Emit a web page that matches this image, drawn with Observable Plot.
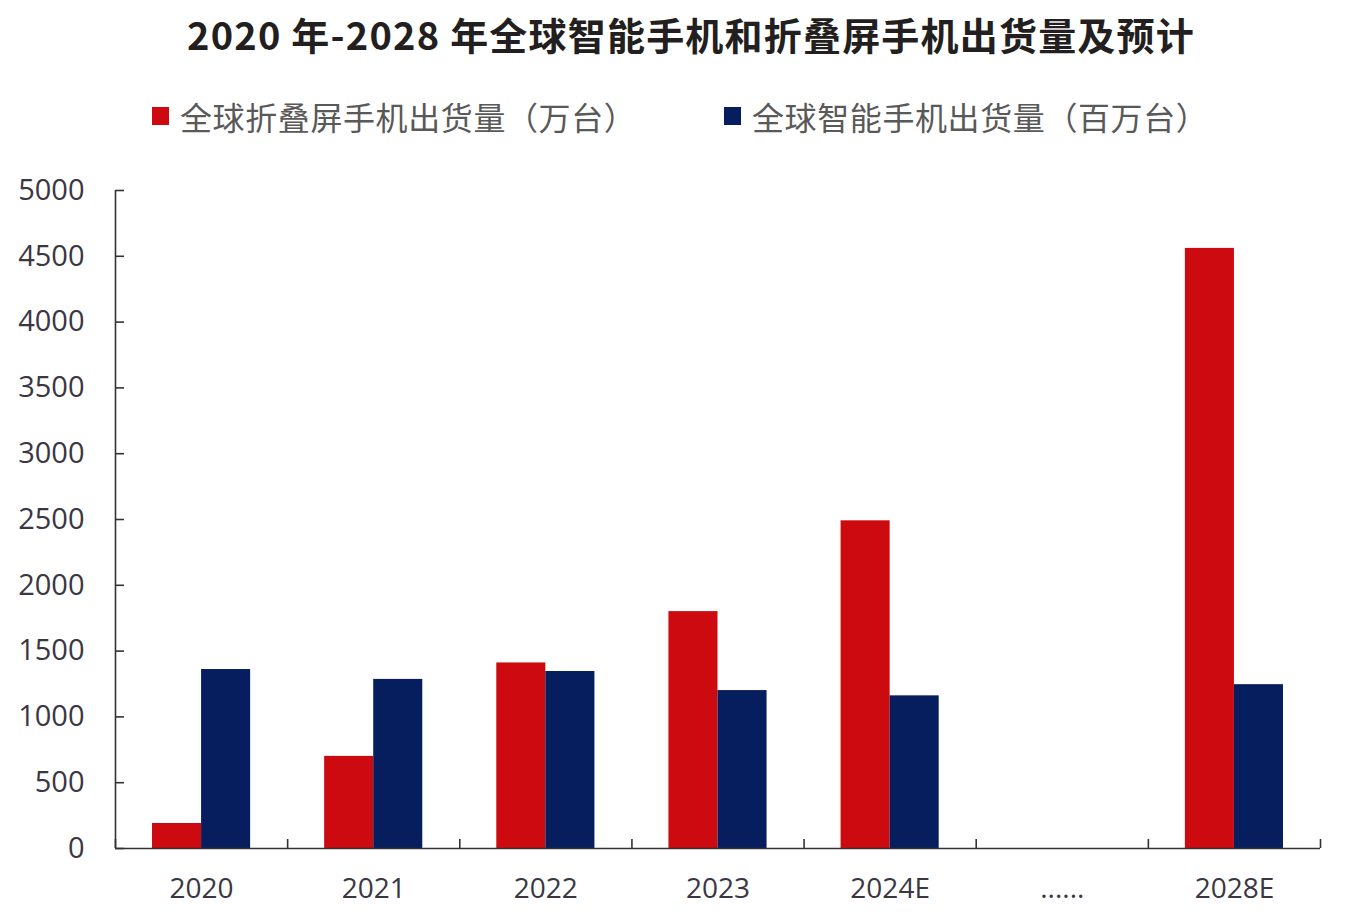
<!DOCTYPE html>
<html>
<head>
<meta charset="utf-8">
<script src="https://cdn.jsdelivr.net/npm/d3@7"></script>
<script src="https://cdn.jsdelivr.net/npm/@observablehq/plot@0.6"></script>
<style>
  html, body { margin: 0; padding: 0; background: #ffffff; }
  #wrap { width: 1360px; height: 920px; position: relative; overflow: hidden; }
  #title { height: 70px; line-height: 68px; text-align: center; font-family: "Noto Sans CJK SC", "Noto Sans", sans-serif; font-weight: 700; font-size: 38px; letter-spacing: 1.2px; color: #231f20; padding-left: 22px; }
  #legend { height: 80px; position: relative; font-family: "Noto Sans CJK SC", sans-serif; font-size: 32px; letter-spacing: 0.6px; color: #595959; }
  .item { position: absolute; top: 26px; height: 40px; display: flex; align-items: center; white-space: nowrap; }
  .sw { width: 17px; height: 18px; margin-right: 11px; }
</style>
</head>
<body>
<div id="wrap">
  <div id="title">2020 年-2028 年全球智能手机和折叠屏手机出货量及预计</div>
  <div id="legend"></div>
  <div id="chart"></div>
</div>
<script>
const categories = ["2020", "2021", "2022", "2023", "2024E", "......", "2028E"];
const foldable = [190, 700, 1410, 1800, 2490, null, 4560];      // 万台
const smartphone = [1360, 1285, 1345, 1200, 1160, null, 1245];  // 百万台
const seriesNames = ["全球折叠屏手机出货量（万台）", "全球智能手机出货量（百万台）"];
const seriesColors = ["#cc0a10", "#061e5e"];
const yTicks = [0, 500, 1000, 1500, 2000, 2500, 3000, 3500, 4000, 4500, 5000];

// legend
const legend = document.getElementById("legend");
const legendLeft = [152, 724];
seriesNames.forEach((name, k) => {
  const it = document.createElement("div");
  it.className = "item";
  it.style.left = legendLeft[k] + "px";
  it.innerHTML = `<div class="sw" style="background:${seriesColors[k]}"></div><span>${name}</span>`;
  legend.appendChild(it);
});

// table
const barW = 0.285; // fraction of a category band per bar
const rows = [];
categories.forEach((c, i) => {
  if (foldable[i] != null) rows.push({cat: c, i, s: 0, v: foldable[i]});
  if (smartphone[i] != null) rows.push({cat: c, i, s: 1, v: smartphone[i]});
});
const centers = categories.map((c, i) => i + 0.5);
const bounds = d3.range(categories.length + 1);

const chart = Plot.plot({
  width: 1360,
  height: 770,
  marginLeft: 115,
  marginRight: 40,
  marginTop: 40,
  marginBottom: 72,
  style: { fontFamily: "'Open Sans', 'Noto Sans CJK SC', sans-serif", fontSize: "28px", color: "#3a3644", background: "#ffffff" },
  x: { domain: [0, categories.length], axis: null },
  y: { domain: [0, 5000], axis: null },
  marks: [
    Plot.rectY(rows, {
      x1: d => d.s === 0 ? d.i + 0.5 - barW : d.i + 0.5,
      x2: d => d.s === 0 ? d.i + 0.5 : d.i + 0.5 + barW,
      y1: 0,
      y2: "v",
      fill: d => seriesColors[d.s]
    }),
    Plot.ruleY([0], { stroke: "#333", strokeWidth: 1.6 }),
    Plot.ruleX([0], { stroke: "#333", strokeWidth: 1.6 }),
    Plot.axisY({ ticks: yTicks, label: null, tickSize: -9, tickPadding: 40, stroke: "#333", strokeWidth: 1.6, fontSize: 29, tickFormat: d => String(d) }),
    Plot.axisX({ ticks: bounds, label: null, tickSize: -9, tickFormat: () => "", stroke: "#333", strokeWidth: 1.6 }),
    Plot.axisX({ ticks: centers, label: null, tickSize: 0, tickPadding: 30, fontSize: 28, tickFormat: d => categories[Math.floor(d)] })
  ]
});
document.getElementById("chart").appendChild(chart);
</script>
</body>
</html>
